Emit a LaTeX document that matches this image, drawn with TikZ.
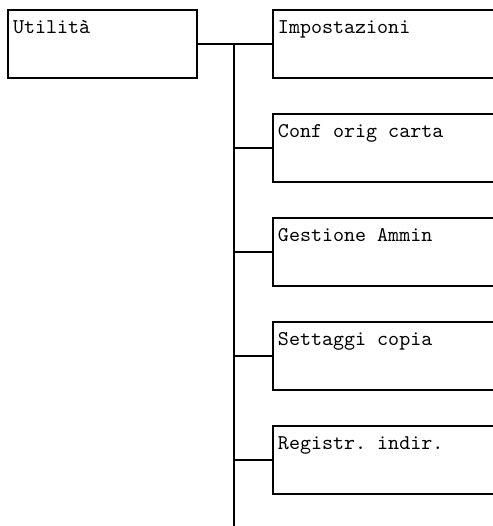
\documentclass[tikz,border=0pt]{standalone}
\usepackage{tikz}
\newcommand\menufont{\ttfamily\fontsize{10.5}{12}\selectfont}
\newcommand\subtext[1]{\makebox[119pt][l]{#1}}

\begin{document}
\begin{tikzpicture}[x=0.5pt,y=-0.5pt,line width=1pt,
  menubox/.style={draw,anchor=north west,inner xsep=2.5pt,inner ysep=0pt,
    text height=11.5pt,text depth=22.5pt,font=\menufont}]
  \useasboundingbox (0,0) rectangle (493,526);
  \clip (0,0) rectangle (493,526);
  % main menu
  \node [menubox] (util) at (7,9) {\makebox[89.5pt][l]{Utilità}};
  % sub menus, open to the right
  \node [menubox] (impost) at (272,9) {\subtext{Impostazioni}};
  \node [menubox] (conf) at (272,113) {\subtext{Conf orig carta}};
  \node [menubox] (gest) at (272,217) {\subtext{Gestione Ammin}};
  \node [menubox] (sett) at (272,321) {\subtext{Settaggi copia}};
  \node [menubox] (reg) at (272,425) {\subtext{Registr.\ indir.}};
  % tree lines
  \coordinate (trunk) at (234,43);
  \coordinate (trunkend) at (234,530);
  \draw (util.east) -- (impost.west);
  \draw (trunk) -- (trunkend);
  \draw (trunk |- conf.west) -- (conf.west);
  \draw (trunk |- gest.west) -- (gest.west);
  \draw (trunk |- sett.west) -- (sett.west);
  \draw (trunk |- reg.west) -- (reg.west);
\end{tikzpicture}
\end{document}
